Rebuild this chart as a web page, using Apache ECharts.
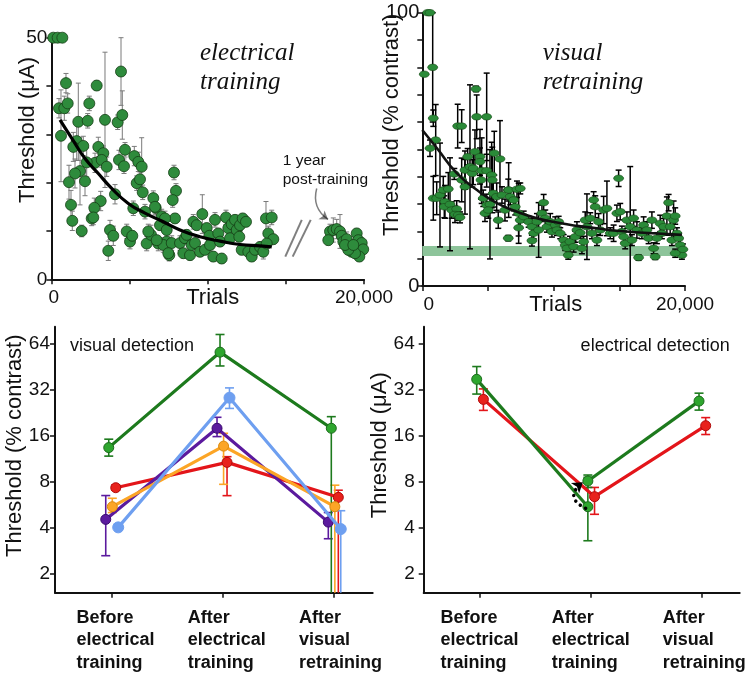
<!DOCTYPE html>
<html><head><meta charset="utf-8">
<script src="https://cdn.jsdelivr.net/npm/echarts@6/dist/echarts.min.js"></script>
<style>html,body{margin:0;padding:0;background:#fff}#c{width:754px;height:681px}</style>
</head><body><div id="c"></div>
<script>
// ---------- Panel A: electrical training ----------
const elecTrials = [120,400,700,486,827,934,1043,614,1721,2322,2425,2898,3429,4453,4241,4536,1619,1401,2041,3001,3321,4709,5304,5560,5777,2790,3218,3538,4325,4645,2258,1830,1510,2150,1126,5458,5669,5841,4069,3154,2745,1254,6520,6673,5240,5989,2578,2681,1337,1939,3749,3960,4818,5029,5176,3640,6097,6373,6199,6840,6948,7057,7844,7972,7759,7908,7377,7159,7697,7543,8228,8440,8548,8868,8976,9079,9296,9188,9508,9655,9828,9936,10103,10148,10359,10467,10679,10787,10896,11171,11318,11427,11536,11747,11856,12022,12067,12240,12451,12176,12598,12816,13027,13347,13558,13730,14095,13878,14197,13775,6628,7268,7377,8656,6737,7479];
const elecThreshold = [50,50,50,35.4,35.4,40.6,36.4,29.7,32.6,32.8,36.4,40.1,33.0,43.0,32.5,34.0,28.6,27.4,27.6,27.4,26.1,26.8,25.5,24.3,23.3,24.1,24.7,23.3,24.7,23.4,24.2,22.4,21.9,20.3,20.1,19.9,20.7,18.0,17.6,16.2,14.8,15.4,16.8,14.8,14.7,14.0,12.6,12.8,12.1,10.0,10.2,9.0,9.9,7.8,9.0,5.9,7.4,9.2,9.9,7.4,11.2,13.0,22.1,18.3,16.4,12.6,7.8,7.1,7.5,5.0,7.5,5.4,8.5,5.0,7.1,11.9,11.2,7.5,5.7,13.5,6.1,10.6,9.0,7.1,4.7,12.3,9.5,7.8,4.3,12.8,10.6,8.5,11.4,12.3,10.2,8.8,11.2,12.6,11.9,6.1,5.7,4.7,6.1,6.7,5.7,12.6,12.8,9.5,8.3,7.4,15.0,12.6,10.2,9.2,8.1,5.4];
const elecErr = [0,0,0,2,2.5,2,2,9.5,8,1.5,1.5,1,14,7,1.5,5,4,3,2,2,1.5,1.5,2,2,6,2,1.5,2,2,1.5,3,7,3,3,3.5,1.5,1.5,1.5,2,2,2,3,1.5,1.5,1.5,1.5,1.5,1.5,2,1.2,2,2,1.5,1.5,1,2,1.5,2,1.5,1.5,1,1.5,1.5,1.5,1.5,1,1.5,1.5,1.5,1.2,1.5,1,1,1,1,1.5,1,1,1,4,1,1,1,1,1,1.5,1,1,1,1.5,1,1,1,1,1,1,1,1,1,1,1,1,1,1,1.5,3.5,1.5,1.5,1,1.5,1.5,1.5,1,1,1,1];
const postTrials = [17825,17716,18036,18254,18464,18574,18677,18894,19105,19213,19533,19636,19854,19950,19700,19425,18995,18785,19316];
const postThreshold = [9.9,8.1,10.2,10.4,9.9,9.0,7.8,8.3,6.7,5.7,9.5,8.1,7.5,6.2,4.7,5.4,6.1,7.1,7.1];
const postErr = [1.5,1,2.5,2,3.5,1,1,1.5,1,1,1,1,1,1,1,1,1,1,1];
const elecFitTrials = [550,1297,2150,3001,3858,4920,5989,7159,8228,9508,10787,12067,13347,14095];
const elecFitThreshold = [33.0,29.2,25.0,21.9,18.8,15.7,13.7,11.9,10.2,8.8,7.9,7.2,6.9,6.7];

// ---------- Panel B: visual retraining ----------
const visTrials = [152,411,586,791,837,1020,586,837,1096,1347,1598,1979,1727,1674,2108,2237,2618,2488,2740,2869,2435,2694,2998,2998,3249,3455,3249,3630,3805,3881,4010,4087,4140,4391,4391,4520,4467,4901,4901,5281,5327,5479,5913,4642,4901,5152,4771,5023,5403,5662,5784,6293,6545,6545,6065,6575,6697,6956,7207,7458,7077,7336,7458,7336,7716,8097,8348,8477,8348,8729,8858,9109,9239,9360,9490,9741,9870,10121,10251,10380,10502,10761,10882,11012,11110,11240,11522,11643,11773,12024,12153,12283,12404,12534,12785,12914,13044,13165,13295,13424,13546,13805,14056,14307,14566,14817,14946,15068,15197,15327,15448,15578,15829,15959,16088,16339,16468,16719,16849,17100,17229,17480,17610,17731,17861,18112,18242,18371,18622,18752,18873,19003,19132,19254,19383,19513,19634,19764,19840,19254];
const visThreshold = [77.5,100,100,80,61.4,53.4,50.4,32.1,32.1,33.3,35.1,35.5,30.8,29.0,29.9,27.8,28.2,26.2,26.0,25.1,41.0,58.5,58.5,38.8,42.4,47.3,36.3,43.6,41.2,43.1,49.1,72.1,61.9,47.3,45.5,42.2,38.8,61.9,42.2,40.6,38.8,48.6,46.5,32.1,29.6,29.9,26.6,27.8,33.9,32.7,24.1,27.8,35.1,17.5,33.3,35.1,32.7,31.5,35.4,35.7,29.0,26.6,24.1,21.3,25.4,23.5,21.7,19.3,16.6,23.5,20.5,26.6,30.5,24.8,21.7,23.5,19.9,22.3,20.5,23.5,19.3,16.8,15.0,13.8,11.3,16.2,14.4,18.0,20.5,19.5,13.8,16.2,24.1,21.7,24.8,19.3,31.5,29.0,16.8,23.5,20.5,27.8,28.4,19.3,19.3,26.6,39.4,27.2,19.9,18.0,15.6,24.1,21.7,16.8,24.8,20.5,10.4,19.3,22.3,20.5,17.5,24.1,13.8,10.7,17.5,22.9,19.3,21.7,25.6,30.5,21.7,16.8,24.1,25.6,19.3,17.5,15.0,11.3,13.4,12.0];
const visErr = [0,0,0,20,3,13,3,8,6,19,5,6,6,4,17,3,3,3,2,2,2,8,6,8,7,3,10,30,5,6,8,1,8,10,5,12,7,16,6,12,12,8,14,3,4,20,3,3,5,5,3,4,4,1,3,10,3,4,3,2,3,11,3,3,2,2,3,2,2,3,10,3,3,3,2,3,2,3,2,2,2,2,2,2,1.5,2,2,2,3,2,2,2,3,12,2,2,3,4,2,3,2,5,10,2,3,3,3,3,2,2,2,3,22,2,3,3,1,2,3,3,2,3,2,1,2,3,2,3,7,3,3,2,7,3,2,2,2,1.5,2,1.5];
const visFitTrials = [0,1119,2641,4163,5685,7207,8729,10251,11773,13295,14817,16849,19764];
const visFitThreshold = [57.1,50.4,41.2,35.1,30.3,27.2,24.8,23.2,22.0,21.1,20.2,19.5,18.7];
const visBand = [11, 14.6];

// ---------- Panels C & D ----------
const stages = ['Before\nelectrical\ntraining', 'After\nelectrical\ntraining', 'After\nvisual\nretraining'];
const yTicks = [2, 4, 8, 16, 32, 64];
// visual detection (% contrast): value, lower, upper
const visGreen = [13.3, 56, 17.8],  visGreenLo = [11.7, 45.5, 1],  visGreenHi = [15.1, 73.1, 21.2];
const visRed = [7.27, 10.65, 6.29], visRedLo = [7.0, 6.45, 1],     visRedHi = [7.6, 11.6, 7.0];
const visOrange = [5.46, 13.6, 5.46], visOrangeLo = [5.0, 7.65, 1], visOrangeHi = [6.2, 16.5, 7.55];
const visPurple = [4.51, 17.8, 4.33], visPurpleLo = [2.61, 15.7, 3.37], visPurpleHi = [6.46, 21, 5.0];
const visBlue = [4.0, 28.2, 3.9],   visBlueLo = [3.9, 24, 1],      visBlueHi = [4.2, 32.7, 5.14];
// electrical detection (µA)
const elecGreenStage = [0, 1, 1, 2];
const elecGreen = [37.2, 5.46, 8.04, 26.8], elecGreenLo = [29.8, 3.27, 7.3, 23.4], elecGreenHi = [45.1, 8.5, 8.8, 30.2];
const elecRed = [27.5, 6.35, 18.5], elecRedLo = [23.3, 4.87, 16.2], elecRedHi = [32.2, 7.3, 20.9];

const FONT = '"Liberation Sans", Arial, Helvetica, sans-serif';
const SERIF = '"Liberation Serif", "Times New Roman", serif';
const INK = '#111';

function errRender(color, lw, capHalf) {
  return function (params, api) {
    const x = api.value(0), lo = api.value(1), hi = api.value(2);
    const pHi = api.coord([x, hi]), pLo = api.coord([x, lo]);
    const cs = params.coordSys;
    const top = cs.y, bot = cs.y + cs.height;
    const st = { stroke: color, lineWidth: lw };
    const ch = [{ type: 'line', shape: { x1: pHi[0], y1: Math.max(pHi[1], top), x2: pHi[0], y2: Math.min(pLo[1], bot) }, style: st }];
    if (pHi[1] >= top - 0.5) ch.push({ type: 'line', shape: { x1: pHi[0] - capHalf, y1: pHi[1], x2: pHi[0] + capHalf, y2: pHi[1] }, style: st });
    if (pLo[1] <= bot + 0.5) ch.push({ type: 'line', shape: { x1: pLo[0] - capHalf, y1: pLo[1], x2: pLo[0] + capHalf, y2: pLo[1] }, style: st });
    return { type: 'group', children: ch };
  };
}
function bandRender(color) {
  return function (params, api) {
    const p0 = api.coord([api.value(0), api.value(2)]);
    const p1 = api.coord([api.value(1), api.value(3)]);
    return { type: 'rect', shape: { x: p0[0], y: p0[1], width: p1[0] - p0[0], height: p1[1] - p0[1] }, style: { fill: color } };
  };
}
const axisLine = { show: true, onZero: false, lineStyle: { color: INK, width: 2 } };
const axisTick = { show: true, length: 5, inside: false, lineStyle: { color: INK, width: 1.5 } };
const noSplit = { show: false };
const lbl = (extra) => Object.assign({ fontSize: 19, fontFamily: FONT, color: INK }, extra);

function stageLabel(width) {
  return {
    customValues: [0, 1, 2],
    align: 'center',
    margin: 14,
    formatter: v => stages[Math.round(v)].split('\n').map(s => '{a|' + s + '}').join('\n'),
    rich: { a: { width: width, align: 'left', fontWeight: 'bold', fontSize: 18, lineHeight: 22.5, fontFamily: FONT, color: INK } }
  };
}
const log2 = Math.log2;

const option = {
  animation: false,
  backgroundColor: '#fff',
  grid: [
    { left: 51.4, top: 37.7, width: 312.6, height: 241.6, outerBoundsMode: 'none' },
    { left: 422.3, top: 12.7, width: 262.7, height: 273.3, outerBoundsMode: 'none' },
    { left: 55, top: 326.7, width: 317.7, height: 266, outerBoundsMode: 'none' },
    { left: 423.7, top: 326.7, width: 316, height: 266, outerBoundsMode: 'none' }
  ],
  xAxis: [
    { type: 'value', gridIndex: 0, min: 0, max: 20000, interval: 5000, axisLine, axisTick, splitLine: noSplit,
      axisLabel: lbl({ customValues: [0, 20000], margin: 9, formatter: v => v === 0 ? '{z|0}' : '20,000',
        rich: { z: { padding: [0, 0, 0, 5], fontSize: 19, fontFamily: FONT, color: INK } } }),
      name: 'Trials', nameLocation: 'middle', nameGap: 8, nameMoveOverlap: false,
      nameTextStyle: { fontSize: 22, fontFamily: FONT, color: INK, padding: [0, 0, 0, 10] } },
    { type: 'value', gridIndex: 1, min: 0, max: 20000, interval: 5000, axisLine, axisTick, splitLine: noSplit,
      axisLabel: lbl({ customValues: [0, 20000], margin: 9, formatter: v => v === 0 ? '{z|0}' : '20,000',
        rich: { z: { padding: [0, 0, 0, 13], fontSize: 19, fontFamily: FONT, color: INK } } }),
      name: 'Trials', nameLocation: 'middle', nameGap: 8, nameMoveOverlap: false,
      nameTextStyle: { fontSize: 22, fontFamily: FONT, color: INK, padding: [0, 0, 0, 4] } },
    { type: 'value', gridIndex: 2, min: -0.508, max: 2.347, axisLine,
      axisTick: Object.assign({ customValues: [0, 1, 2] }, axisTick), splitLine: noSplit,
      axisLabel: stageLabel(70) },
    { type: 'value', gridIndex: 3, min: -0.502, max: 2.341, axisLine,
      axisTick: Object.assign({ customValues: [0, 1, 2] }, axisTick), splitLine: noSplit,
      axisLabel: stageLabel(78) }
  ],
  yAxis: [
    { type: 'value', gridIndex: 0, min: 0, max: 50, interval: 10, axisLine, axisTick, splitLine: noSplit,
      axisLabel: lbl({ customValues: [0, 50], margin: 4 }),
      name: 'Threshold (μA)', nameLocation: 'middle', nameGap: 12, nameMoveOverlap: false,
      nameTextStyle: { fontSize: 22, fontFamily: FONT, color: INK, padding: [0, 0, 0, 57] } },
    { type: 'value', gridIndex: 1, min: 0, max: 100, interval: 10, axisLine, axisTick, splitLine: noSplit,
      axisLabel: lbl({ customValues: [0, 100], margin: 3, fontSize: 20 }),
      name: 'Threshold (% contrast)', nameLocation: 'middle', nameGap: 19, nameMoveOverlap: false,
      nameTextStyle: { fontSize: 22, fontFamily: FONT, color: INK, padding: [0, 0, 0, 49] } },
    { type: 'value', gridIndex: 2, min: log2(1.495), max: log2(82.2), axisLine,
      axisTick: Object.assign({ customValues: yTicks.map(log2) }, axisTick), splitLine: noSplit,
      axisLabel: lbl({ customValues: yTicks.map(log2), margin: 5, formatter: v => String(Math.round(Math.pow(2, v))) }),
      name: 'Threshold (% contrast)', nameLocation: 'middle', nameGap: 29, nameMoveOverlap: false,
      nameTextStyle: { fontSize: 22, fontFamily: FONT, color: INK, padding: [0, 0, 0, 28] } },
    { type: 'value', gridIndex: 3, min: log2(1.495), max: log2(82.2), axisLine,
      axisTick: Object.assign({ customValues: yTicks.map(log2) }, axisTick), splitLine: noSplit,
      axisLabel: lbl({ customValues: yTicks.map(log2), margin: 9, formatter: v => String(Math.round(Math.pow(2, v))) }),
      name: 'Threshold (μA)', nameLocation: 'middle', nameGap: 33, nameMoveOverlap: false,
      nameTextStyle: { fontSize: 22, fontFamily: FONT, color: INK, padding: [0, 0, 0, 29] } }
  ],
  graphic: [
    { type: 'text', left: 200, top: 38.5, style: { text: 'electrical\ntraining', fontSize: 25, fontStyle: 'italic', fontFamily: SERIF, lineHeight: 29, fill: INK } },
    { type: 'text', left: 542.7, top: 38.8, style: { text: 'visual\nretraining', fontSize: 25, fontStyle: 'italic', fontFamily: SERIF, lineHeight: 29, fill: INK } },
    { type: 'text', left: 282.7, top: 151.5, style: { text: '1 year\npost-training', fontSize: 15.5, fontFamily: FONT, lineHeight: 19, fill: INK } },
    { type: 'text', left: 70, top: 335, style: { text: 'visual detection', fontSize: 18, fontFamily: FONT, lineHeight: 22, fill: INK } },
    { type: 'text', right: 24.3, top: 335, style: { text: 'electrical detection', fontSize: 18, fontFamily: FONT, lineHeight: 22, fill: INK } }
  ],
  series: []
};

const S = option.series;
// Panel A
S.push({ type: 'custom', xAxisIndex: 0, yAxisIndex: 0, z: 2, renderItem: errRender('#7a7a7a', 1, 2.5),
  data: elecTrials.map((t, i) => [t, elecThreshold[i] - elecErr[i], elecThreshold[i] + elecErr[i]]).filter((d, i) => elecErr[i] > 0)
    .concat(postTrials.map((t, i) => [t, postThreshold[i] - postErr[i], postThreshold[i] + postErr[i]])) });
S.push({ type: 'scatter', xAxisIndex: 0, yAxisIndex: 0, z: 3, symbol: 'circle', symbolSize: 11, clip: false,
  itemStyle: { color: '#2e8b3c', borderColor: '#153f15', borderWidth: 0.8, opacity: 1 },
  data: elecTrials.map((t, i) => [t, elecThreshold[i]]).concat(postTrials.map((t, i) => [t, postThreshold[i]])) });
S.push({ type: 'line', xAxisIndex: 0, yAxisIndex: 0, z: 4, smooth: true, showSymbol: false, symbol: 'none',
  lineStyle: { color: '#000', width: 3.2 }, data: elecFitTrials.map((t, i) => [t, elecFitThreshold[i]]) });
S.push({ type: 'lines', coordinateSystem: 'cartesian2d', xAxisIndex: 0, yAxisIndex: 0, z: 4, symbol: 'none',
  lineStyle: { color: '#000', width: 2, curveness: 0 },
  data: [{ coords: [[14965, 4.7], [16020, 12.3]] }, { coords: [[15438, 4.7], [16590, 12.3]] }] });
S.push({ type: 'lines', coordinateSystem: 'cartesian2d', xAxisIndex: 0, yAxisIndex: 0, z: 4, symbol: ['none', 'arrow'], symbolSize: 8,
  lineStyle: { color: '#000', width: 1.5, curveness: -0.35 },
  data: [{ coords: [[16974, 18.8], [17700, 12.4]] }] });
// Panel B
S.push({ type: 'custom', xAxisIndex: 1, yAxisIndex: 1, z: 1, renderItem: bandRender('#8dc49a'), data: [[0, 20000, visBand[1], visBand[0]]] });
S.push({ type: 'custom', xAxisIndex: 1, yAxisIndex: 1, z: 2, renderItem: errRender('#000', 1.5, 3),
  data: visTrials.map((t, i) => [t, visThreshold[i] - visErr[i], visThreshold[i] + visErr[i]]).filter((d, i) => visErr[i] > 0) });
S.push({ type: 'scatter', xAxisIndex: 1, yAxisIndex: 1, z: 3, symbol: 'circle', symbolSize: [10, 6.5], clip: false,
  itemStyle: { color: '#2a8a38', borderColor: '#184a18', borderWidth: 0.6, opacity: 1 },
  data: visTrials.map((t, i) => [t, visThreshold[i]]) });
S.push({ type: 'line', xAxisIndex: 1, yAxisIndex: 1, z: 4, smooth: true, showSymbol: false, symbol: 'none',
  lineStyle: { color: '#111', width: 2.6 }, data: visFitTrials.map((t, i) => [t, visFitThreshold[i]]) });

// Panels C & D
function stageSeries(grid, vals, lo, hi, stageIdx, dodge, color, z) {
  const xs = vals.map((v, i) => (stageIdx ? stageIdx[i] : i) + dodge);
  S.push({ type: 'custom', xAxisIndex: grid, yAxisIndex: grid, z: z || 5, renderItem: errRender(color, 1.6, 4.5),
    data: vals.map((v, i) => [xs[i], log2(lo[i]), log2(hi[i])]) });
  return xs;
}
function stageLine(grid, pts, color, fill, border, size, z) {
  S.push({ type: 'line', xAxisIndex: grid, yAxisIndex: grid, z: z, symbol: 'circle', symbolSize: size, showSymbol: true,
    lineStyle: { color: color, width: 3.2 }, itemStyle: { color: fill, borderColor: border, borderWidth: 1 },
    data: pts });
}
const visSets = [
  [visRed, visRedLo, visRedHi, 0.038, '#e3151a', '#e8221c', '#b00c0c', 10],
  [visPurple, visPurpleLo, visPurpleHi, -0.052, '#5b1a9e', '#5b1a9e', '#3a0a70', 10],
  [visOrange, visOrangeLo, visOrangeHi, 0.007, '#fca526', '#fca526', '#d98a10', 10],
  [visBlue, visBlueLo, visBlueHi, 0.06, '#6e9ff0', '#6e9ff0', '#6e9ff0', 11],
  [visGreen, visGreenLo, visGreenHi, -0.025, '#1d7a1d', '#2ea62e', '#1d6b1d', 10]
];
visSets.forEach((s, k) => {
  const xs = stageSeries(2, s[0], s[1], s[2], null, s[3], s[4]);
  stageLine(2, s[0].map((v, i) => [xs[i], log2(v)]), s[4], s[5], s[6], s[7], 10 + k);
});
// D
{
  const xr = stageSeries(3, elecRed, elecRedLo, elecRedHi, null, 0.035, '#e3151a');
  stageLine(3, elecRed.map((v, i) => [xr[i], log2(v)]), '#e3151a', '#e8221c', '#b00c0c', 10, 10);
  const xg = stageSeries(3, elecGreen, elecGreenLo, elecGreenHi, elecGreenStage, -0.025, '#1d7a1d');
  stageLine(3, [[xg[0], log2(elecGreen[0])], [xg[1], log2(elecGreen[1])]], '#1d7a1d', '#2ea62e', '#1d6b1d', 10, 12);
  stageLine(3, [[xg[2], log2(elecGreen[2])], [xg[3], log2(elecGreen[3])]], '#1d7a1d', '#2ea62e', '#1d6b1d', 10, 12);
  S.push({ type: 'lines', coordinateSystem: 'cartesian2d', xAxisIndex: 3, yAxisIndex: 3, z: 15, symbol: ['none', 'arrow'], symbolSize: 10,
    lineStyle: { color: '#000', width: 3.5, type: [0.1, 6], cap: 'round', curveness: 0.8, opacity: 1 },
    data: [{ coords: [[0.955, log2(5.33)], [0.93, log2(7.9)]] }] });
}

const chart = echarts.init(document.getElementById('c'), null, { renderer: 'canvas' });
chart.setOption(option);
</script></body></html>
